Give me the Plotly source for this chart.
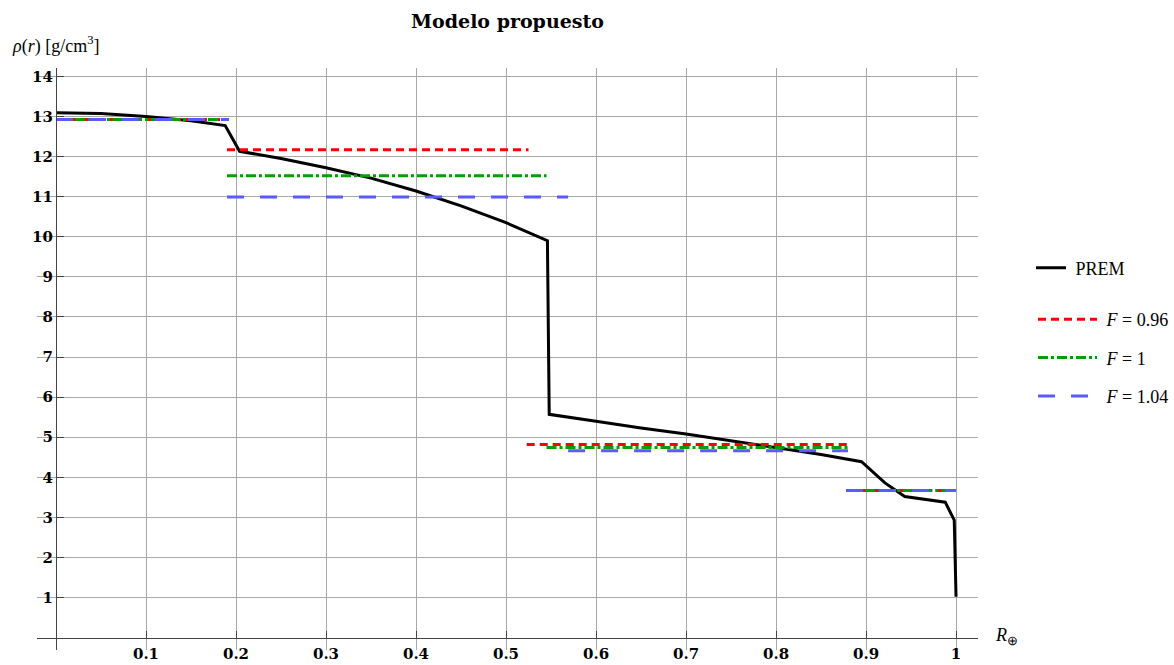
import plotly.graph_objects as go

# ---------------- data ----------------
prem_r = [0.0, 0.05, 0.10, 0.15, 0.188, 0.204, 0.25, 0.30, 0.35, 0.40, 0.45, 0.50, 0.546,
          0.548, 0.60, 0.65, 0.70, 0.75, 0.80, 0.85, 0.895, 0.921, 0.943, 0.988, 0.998, 1.0]
prem_rho = [13.09, 13.07, 13.00, 12.89, 12.77, 12.13, 11.95, 11.72, 11.46, 11.14, 10.77, 10.35, 9.90,
            5.57, 5.40, 5.23, 5.08, 4.91, 4.74, 4.57, 4.39, 3.86, 3.52, 3.38, 2.93, 1.02]

# piecewise-constant models: (start, end) of each layer and density
f096_start = [0.0, 0.190, 0.523, 0.878]
f096_end = [0.192, 0.525, 0.880, 1.0]
f096_rho = [12.92, 12.17, 4.82, 3.67]

f1_start = [0.0, 0.190, 0.545, 0.878]
f1_end = [0.192, 0.545, 0.880, 1.0]
f1_rho = [12.92, 11.52, 4.74, 3.67]

f104_start = [0.0, 0.190, 0.569, 0.878]
f104_end = [0.192, 0.569, 0.880, 1.0]
f104_rho = [12.92, 10.99, 4.66, 3.67]

x_ticks = [0.1, 0.2, 0.3, 0.4, 0.5, 0.6, 0.7, 0.8, 0.9, 1.0]
x_ticktext = ["0.1", "0.2", "0.3", "0.4", "0.5", "0.6", "0.7", "0.8", "0.9", "1"]
y_ticks = list(range(1, 15))
y_ticktext = [str(v) for v in y_ticks]

X_RANGE = [-0.0211, 1.0244]
Y_RANGE = [-0.307, 14.207]


def steps(starts, ends, vals):
    xs, ys = [], []
    for s, e, v in zip(starts, ends, vals):
        xs += [s, e, None]
        ys += [v, v, None]
    return xs[:-1], ys[:-1]


SERIF = "Liberation Serif"
BOLD = "DejaVu Serif"
PLOT_H = 665 - 68 - 15

fig = go.Figure()

fig.add_trace(go.Scatter(x=prem_r, y=prem_rho, mode="lines", name="\u00a0PREM",
                         line=dict(color="black", width=3), legend="legend",
                         showlegend=True))

for (st, en, rv, name, color, dash) in [
    (f096_start, f096_end, f096_rho, "\u00a0<i>F</i> = 0.96", "#ff0000", "8px,5px"),
    (f1_start, f1_end, f1_rho, "\u00a0<i>F</i> = 1", "#00a000", "10px,3px,3px,3px"),
    (f104_start, f104_end, f104_rho, "\u00a0<i>F</i> = 1.04", "#5a5aff", "17px,16px"),
]:
    xs, ys = steps(st, en, rv)
    fig.add_trace(go.Scatter(x=xs, y=ys, mode="lines", name=name, connectgaps=False,
                             line=dict(color=color, width=3, dash=dash),
                             legend="legend2", legendgroup=name, showlegend=True))

xpos = (0 - X_RANGE[0]) / (X_RANGE[1] - X_RANGE[0])
ypos = (0 - Y_RANGE[0]) / (Y_RANGE[1] - Y_RANGE[0])

fig.update_layout(
    width=1174, height=665,
    showlegend=True,
    margin=dict(l=37, r=196, t=68, b=15, autoexpand=False),
    paper_bgcolor="white", plot_bgcolor="white",
    title=dict(text="<b>Modelo propuesto</b>", x=0.5, xref="paper", xanchor="center",
               y=1 - 21 / 665, yanchor="middle", yref="container",
               font=dict(family=BOLD, size=19, color="black")),
    xaxis=dict(range=X_RANGE, anchor="free", position=ypos, showline=True, automargin=False,
               linecolor="#444444", linewidth=1.3, ticks="inside", ticklen=7,
               tickcolor="#444444", tickwidth=1.3, tickvals=x_ticks, ticktext=x_ticktext,
               showgrid=True, gridcolor="#a8a8a8", gridwidth=1.2, zeroline=False,
               tickfont=dict(family=BOLD, size=15, color="black", weight="bold"),
               ticklabelstandoff=2),
    yaxis=dict(range=Y_RANGE, anchor="free", position=xpos, showline=True, automargin=False,
               linecolor="#444444", linewidth=1.3, ticks="inside", ticklen=7,
               tickcolor="#444444", tickwidth=1.3, tickvals=y_ticks, ticktext=y_ticktext,
               showgrid=True, gridcolor="#a8a8a8", gridwidth=1.2, zeroline=False,
               tickfont=dict(family=BOLD, size=15, color="black", weight="bold")),
    legend=dict(x=(1031 - 37) / 941, y=(650 - 268) / PLOT_H, xanchor="left", yanchor="middle",
                font=dict(family=SERIF, size=18, color="black"), bgcolor="rgba(0,0,0,0)",
                itemwidth=30),
    legend2=dict(x=(1033 - 37) / 941, y=(650 - 358) / PLOT_H, xanchor="left", yanchor="middle",
                 font=dict(family=SERIF, size=18, color="black"), bgcolor="rgba(0,0,0,0)",
                 itemwidth=59, tracegroupgap=12),
    annotations=[
        dict(text="<i>ρ</i>(<i>r</i>) [g/cm<sup>3</sup>]", xref="paper", yref="paper",
             x=(10 - 37) / 941, y=(650 - 45) / PLOT_H, xanchor="left", yanchor="middle",
             showarrow=False, font=dict(family=SERIF, size=18, color="black")),
        dict(text="<i>R</i><sub>⊕</sub>", xref="paper", yref="paper",
             x=(993 - 37) / 941, y=(650 - 636) / PLOT_H, xanchor="left", yanchor="middle",
             showarrow=False, font=dict(family=SERIF, size=18, color="black")),
    ],
)

fig.write_html("out.html")
